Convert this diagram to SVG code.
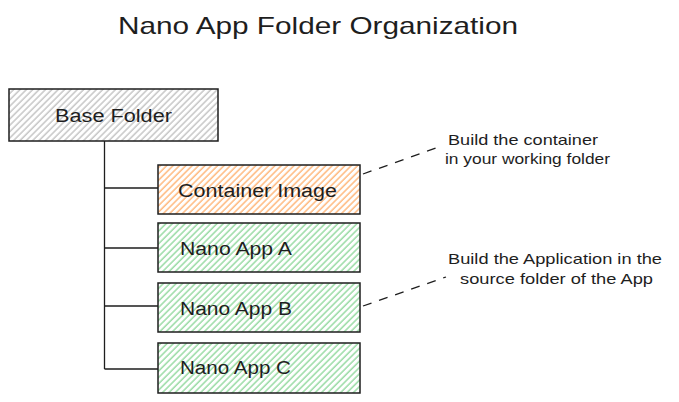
<svg xmlns="http://www.w3.org/2000/svg" width="679" height="402" viewBox="0 0 679 402">
<style>
text{font-family:"Liberation Sans","DejaVu Sans",sans-serif;fill:#1e1e1e}
.box{stroke:#1e1e1e;stroke-width:1.5}
.t{font-size:18px;text-anchor:start}
.n{font-size:15px}
.c{stroke:#1e1e1e;stroke-width:1.3;fill:none}
.d{stroke:#1e1e1e;stroke-width:1.3;fill:none;stroke-dasharray:9 8}
</style>
<defs>
<pattern id="hg" patternUnits="userSpaceOnUse" width="4.5" height="4.5" patternTransform="rotate(45)"><rect width="4.5" height="4.5" fill="#fff"/><line x1="1" y1="0" x2="1" y2="4.5" stroke="#b8b8b8" stroke-width="1.2"/></pattern>
<pattern id="ho" patternUnits="userSpaceOnUse" width="4.5" height="4.5" patternTransform="rotate(45)"><rect width="4.5" height="4.5" fill="#fff"/><line x1="1" y1="0" x2="1" y2="4.5" stroke="#ffa85e" stroke-width="1.2"/></pattern>
<pattern id="hn" patternUnits="userSpaceOnUse" width="4.5" height="4.5" patternTransform="rotate(45)"><rect width="4.5" height="4.5" fill="#fff"/><line x1="1" y1="0" x2="1" y2="4.5" stroke="#7fd28e" stroke-width="1.2"/></pattern>
</defs>
<text x="318" y="34" font-size="24" text-anchor="middle" textLength="400" lengthAdjust="spacingAndGlyphs">Nano App Folder Organization</text>
<g id="connectors">
<path class="c" d="M104.5 141 V369 M104.5 188 H158 M104.5 248 H158 M104.5 306 H158 M104.5 369 H158"/>
<path class="d" d="M363 174 L436 148"/>
<path class="d" d="M363 306 L446 277"/>
</g>
<g id="base"><rect class="box" x="9" y="89" width="209" height="52" fill="url(#hg)"/><text class="t" x="55" y="122" textLength="117" lengthAdjust="spacingAndGlyphs">Base Folder</text></g>
<g id="container"><rect class="box" x="158" y="165" width="202" height="49" fill="url(#ho)"/><text class="t" x="178" y="197" textLength="159" lengthAdjust="spacingAndGlyphs">Container Image</text></g>
<g id="appA"><rect class="box" x="158" y="223" width="202" height="49" fill="url(#hn)"/><text class="t" x="180" y="255" textLength="112" lengthAdjust="spacingAndGlyphs">Nano App A</text></g>
<g id="appB"><rect class="box" x="158" y="283" width="202" height="49" fill="url(#hn)"/><text class="t" x="180" y="315" textLength="112" lengthAdjust="spacingAndGlyphs">Nano App B</text></g>
<g id="appC"><rect class="box" x="158" y="343" width="202" height="50" fill="url(#hn)"/><text class="t" x="180" y="374" textLength="111" lengthAdjust="spacingAndGlyphs">Nano App C</text></g>
<g id="note1"><text class="n" x="448" y="145" textLength="150" lengthAdjust="spacingAndGlyphs">Build the container</text><text class="n" x="445" y="164" textLength="165" lengthAdjust="spacingAndGlyphs">in your working folder</text></g>
<g id="note2"><text class="n" x="448" y="264" textLength="214" lengthAdjust="spacingAndGlyphs">Build the Application in the</text><text class="n" x="460" y="284" textLength="193" lengthAdjust="spacingAndGlyphs">source folder of the App</text></g>
</svg>
